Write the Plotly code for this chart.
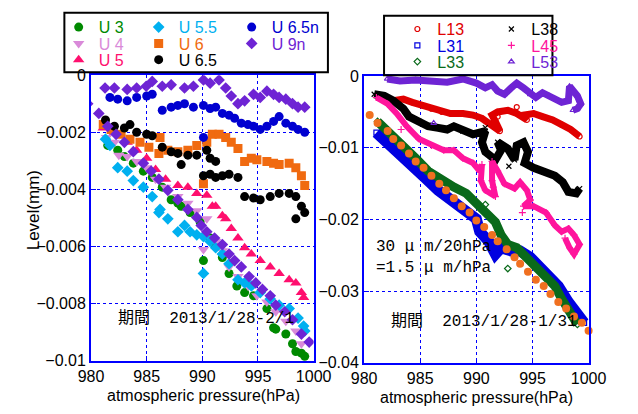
import plotly.graph_objects as go

# ---------------- Left panel data (U series) ----------------
u3_p = [981.5, 982.4, 983.0, 983.8, 984.7, 985.5, 986.4, 987.2, 987.8, 988.1, 988.9, 989.8, 990.7, 991.2,
        990.1, 991.8, 992.4, 993.1, 993.8, 994.6, 995.8, 996.4, 996.6, 997.5, 998.1, 998.4, 998.9, 999.2]
u3_lv = [-0.00246, -0.00263, -0.00285, -0.00308, -0.00336, -0.00358, -0.00392, -0.00436, -0.00448, -0.00459,
         -0.00481, -0.00514, -0.0057, -0.006, -0.00649, -0.00638, -0.00694, -0.00738, -0.00761, -0.00772,
         -0.00817, -0.00884, -0.00889, -0.00906, -0.0094, -0.00967, -0.00973, -0.00984]

u4_p = [981.4, 982.1, 982.5, 983.25, 984.1, 985.0, 985.8, 986.7, 987.8, 988.7, 989.5, 990.4, 990.1, 990.7,
        991.2, 991.8, 992.4, 993.2, 994.1, 994.9, 995.8, 996.6, 997.5, 998.4, 998.9]
u4_lv = [-0.00218, -0.00235, -0.0028, -0.00285, -0.00302, -0.00324, -0.00364, -0.00392, -0.00425, -0.00448,
         -0.00475, -0.00503, -0.0061, -0.0057, -0.00582, -0.00615, -0.00671, -0.00705, -0.00738, -0.00772,
         -0.00794, -0.00828, -0.00861, -0.00895, -0.0094]

u5_p = [981.1, 982.1, 983.25, 984.1, 985.0, 985.8, 986.7, 987.8, 988.7, 989.5, 990.4, 990.9, 991.2, 991.8,
        992.1, 992.6, 993.2, 993.8, 994.4, 995.2, 996.1, 996.9, 997.8, 998.4, 998.9, 999.1]
u5_lv = [-0.00185, -0.002, -0.00235, -0.00263, -0.00291, -0.0033, -0.00364, -0.00386, -0.00392, -0.00414,
         -0.0042, -0.00459, -0.00459, -0.00492, -0.00503, -0.00537, -0.0057, -0.00604, -0.00626, -0.00649,
         -0.00671, -0.00694, -0.00716, -0.00727, -0.00761, -0.00778]

u55_p = [981.3, 981.7, 982.4, 983.25, 983.8, 984.7, 985.5, 986.2, 986.1, 986.9, 987.8, 988.4, 988.9, 989.5,
         990.1, 990.7, 991.2, 991.8, 992.4, 993.2, 993.8, 994.4, 995.2, 996.1, 996.9, 997.8, 998.6, 999.1,
         999.2, 990.1]
u55_lv = [-0.00224, -0.00246, -0.00324, -0.00336, -0.00369, -0.00392, -0.00425, -0.0047, -0.00481, -0.00503,
          -0.00548, -0.00526, -0.00548, -0.00559, -0.00565, -0.00582, -0.00604, -0.00626, -0.0066, -0.00716,
          -0.00727, -0.00738, -0.00761, -0.00783, -0.00805, -0.00817, -0.0085, -0.00878, -0.00895, -0.00694]

u6_p = [981.1, 981.8, 982.7, 983.5, 984.4, 985.2, 986.1, 986.2, 986.9, 987.8, 988.7, 989.5, 990.4, 990.9,
        991.5, 992.1, 992.6, 993.2, 993.8, 994.4, 994.9, 995.8, 996.4, 996.9, 997.8, 998.4, 998.9, 999.2, 990.1]
u6_lv = [-0.00173, -0.0019, -0.00207, -0.00224, -0.00235, -0.00252, -0.00274, -0.00218, -0.00263, -0.00268,
         -0.00263, -0.00246, -0.00235, -0.00207, -0.00207, -0.00218, -0.00235, -0.00257, -0.00302, -0.00291,
         -0.00296, -0.00302, -0.00308, -0.00313, -0.00308, -0.00324, -0.00352, -0.00386, -0.0038]

u65_p = [981.3, 982.1, 983.0, 983.5, 984.1, 985.0, 985.5, 986.4, 987.2, 987.8, 988.1, 988.7, 989.5, 990.4,
         990.7, 991.2, 990.1, 990.7, 991.2, 991.8, 992.4, 993.2, 993.8, 994.6, 995.2, 996.1, 996.9, 997.8,
         998.4, 998.9, 999.2, 998.4]
u65_lv = [-0.00157, -0.00179, -0.00185, -0.00173, -0.002, -0.00207, -0.00212, -0.00252, -0.00268, -0.00274,
          -0.00313, -0.0028, -0.0028, -0.00263, -0.00291, -0.00302, -0.00352, -0.00347, -0.00358, -0.00352,
          -0.00347, -0.00358, -0.00425, -0.0043, -0.00436, -0.00425, -0.00414, -0.00414, -0.00425, -0.00459,
          -0.00481, -0.00503]

u65n_p = [981.7, 982.4, 983.25, 984.1, 985.0, 985.5, 986.4, 987.2, 987.8, 988.4, 989.2, 990.1, 990.7, 991.2,
          991.8, 992.4, 992.9, 993.5, 994.1, 994.6, 995.2, 995.8, 996.4, 996.9, 997.5, 998.1, 998.6, 999.2, 990.1]
u65n_lv = [-0.00078, -0.00084, -0.0009, -0.00078, -0.00073, -0.00067, -0.00123, -0.00112, -0.00106, -0.001,
           -0.00112, -0.00106, -0.00117, -0.00112, -0.00134, -0.0014, -0.00151, -0.00168, -0.00173, -0.00179,
           -0.0019, -0.00179, -0.00162, -0.00145, -0.00168, -0.00179, -0.0019, -0.002, -0.00218]

u9n_p = [981.26, 982.1, 983.25, 984.1, 984.96, 985.5, 986.4, 987.2, 988.4, 989.2, 990.1, 990.7, 991.5, 992.1,
         992.6, 993.2, 993.8, 994.6, 995.2, 995.8, 996.4, 996.9, 997.5, 998.1, 998.6, 999.2]
u9n_lv = [-0.00045, -0.00045, -0.0005, -0.00045, -0.00039, -0.00022, -0.00039, -0.00034, -0.00045, -0.00039,
          -0.00017, -0.00028, -0.00017, -0.00045, -0.00073, -0.001, -0.0009, -0.00067, -0.00078, -0.00056,
          -0.00067, -0.00078, -0.00084, -0.001, -0.00112, -0.00112]

# second purple-diamond set (diagonal)
u9d_p = [979.7, 980.7, 981.5, 982.25, 983.0, 983.8, 984.7, 985.4, 986.1, 986.9, 987.8, 988.7, 989.5, 989.9,
         990.4, 991.1, 991.8, 992.4, 992.9, 993.5, 994.2, 994.8, 995.4, 996.1, 996.6, 997.4, 998.1, 998.9, 999.6]
u9d_lv = [-0.001, -0.00134, -0.00179, -0.00207, -0.00235, -0.00268, -0.00308, -0.00336, -0.00364, -0.00403,
          -0.00436, -0.0047, -0.00498, -0.00526, -0.00548, -0.0057, -0.00593, -0.00626, -0.00649, -0.00671,
          -0.00705, -0.00727, -0.0075, -0.00772, -0.00805, -0.00828, -0.00856, -0.00906, -0.00934]

# ---------------- Right panel data (L series) ----------------
l13_p = [982.6, 983.5, 984.3, 985.2, 986.0, 986.9, 987.7, 988.8, 989.7, 990.5, 991.4, 992.1, 991.7, 991.4,
         991.9, 992.8, 993.6, 994.5, 994.2, 995.1, 995.9, 996.8, 997.6, 998.4, 999.2]
l13_lv = [-0.00343, -0.00321, -0.00366, -0.0041, -0.00455, -0.005, -0.00522, -0.00522, -0.00544, -0.00589,
          -0.00678, -0.00767, -0.00633, -0.00544, -0.005, -0.00477, -0.00522, -0.00611, -0.00544, -0.00522,
          -0.00566, -0.00611, -0.00678, -0.00745, -0.00843]
l13_out_p = [991.9, 993.6]
l13_out_lv = [-0.00566, -0.00432]

l31_p = [981.1, 982.1, 983.2, 984.3, 985.4, 986.6, 987.7, 988.8, 990.0, 990.3, 991.1, 991.7, 992.2, 993.1,
         993.9, 994.8, 995.6, 996.5, 997.3, 998.2, 999.0, 999.6]
l31_lv = [-0.00789, -0.00923, -0.01101, -0.01235, -0.01414, -0.01592, -0.01726, -0.0186, -0.01993, -0.0217,
          -0.02305, -0.02484, -0.02395, -0.02439, -0.02439, -0.02528, -0.02662, -0.02796, -0.0293, -0.03153,
          -0.03331, -0.03442]
l31_out_p = []
l31_out_lv = []

l33_p = [981.2, 982.3, 983.5, 984.6, 985.7, 986.9, 988.0, 989.1, 990.0, 990.8, 991.7, 992.2, 992.8, 993.6,
         994.5, 995.3, 996.2, 997.0, 997.6, 998.2, 999.0]
l33_lv = [-0.00633, -0.00789, -0.00967, -0.01147, -0.01324, -0.01458, -0.01548, -0.01636, -0.0177, -0.01904,
          -0.02037, -0.02216, -0.02349, -0.02395, -0.02528, -0.02662, -0.02796, -0.0293, -0.03108, -0.03287,
          -0.03465]
l33_out_p = [990.8, 992.8]
l33_out_lv = [-0.01793, -0.02685]

l38_p = [980.9, 981.8, 982.6, 983.5, 984.0, 984.9, 985.7, 986.6, 987.4, 988.0, 988.8, 989.7, 990.8, 990.5,
         990.8, 991.7, 992.2, 991.9, 992.8, 993.4, 993.6, 994.2, 994.6, 994.3, 995.1, 995.9, 997.0, 997.7,
         998.2, 998.9, 999.2]
l38_lv = [-0.00254, -0.00277, -0.00343, -0.00455, -0.00566, -0.00633, -0.007, -0.00722, -0.00745, -0.007,
          -0.00767, -0.00812, -0.00767, -0.00923, -0.01057, -0.01168, -0.01034, -0.00923, -0.01012, -0.01168,
          -0.00967, -0.00923, -0.01057, -0.01213, -0.0128, -0.01324, -0.01391, -0.01481, -0.01615, -0.01636,
          -0.01569]
l38_out_p = [992.9, 990.8]
l38_out_lv = [-0.01258, -0.0072]

l45_p = [981.1, 982.1, 982.9, 983.8, 984.9, 986.0, 987.1, 988.0, 988.8, 989.7, 990.3, 990.5, 990.4, 990.8,
         991.7, 991.4, 991.4, 991.9, 992.5, 993.4, 993.9, 994.5, 994.8, 994.2, 995.1, 996.2, 997.0, 997.6,
         998.2, 998.7, 999.2, 998.7, 998.3, 997.9]
l45_lv = [-0.00299, -0.00388, -0.00522, -0.007, -0.00879, -0.00967, -0.01034, -0.01034, -0.01147, -0.01213,
          -0.01324, -0.01235, -0.01458, -0.01592, -0.01681, -0.01458, -0.01191, -0.01324, -0.01503, -0.01569,
          -0.01481, -0.01592, -0.01726, -0.01815, -0.01815, -0.01904, -0.02083, -0.0217, -0.02127, -0.02216,
          -0.02349, -0.02484, -0.02395, -0.02261]
l45_out_p = [991.5, 994.1, 983.3]
l45_out_lv = [-0.01548, -0.01904, -0.00745]

l53_p = [982.06, 983.2, 984.6, 986.0, 987.4, 988.8, 990.0, 990.8, 991.4, 991.9, 992.5, 993.1, 993.6, 994.2,
         994.8, 995.3, 995.9, 996.5, 997.0, 997.6, 998.2, 998.3, 999.0, 999.3, 999.0, 998.6]
l53_lv = [-0.0004, -0.00067, -0.00054, -0.00076, -0.00085, -0.0004, -0.00098, -0.00165, -0.0012, -0.0021,
          -0.00254, -0.00165, -0.00098, -0.00165, -0.00254, -0.00298, -0.00232, -0.00277, -0.00321, -0.00366,
          -0.00344, -0.00143, -0.00277, -0.00388, -0.00455, -0.00477]
l53_out_p = [986.2]
l53_out_lv = [-0.00656]

ref_p = [980.5, 981.2, 982.1, 982.6, 983.3, 984.0, 984.6, 985.3, 986.0, 986.7, 987.3, 988.0, 988.7, 989.4,
         990.0, 990.7, 991.4, 991.9, 992.7, 993.4, 993.9, 994.6, 995.3, 996.0, 996.6, 997.3, 998.0, 998.7,
         999.4, 1000.0]
ref_lv = [-0.00544, -0.00656, -0.00767, -0.00879, -0.00967, -0.0108, -0.01191, -0.0128, -0.01391, -0.01503,
          -0.01592, -0.01703, -0.01815, -0.01904, -0.02016, -0.02104, -0.02216, -0.02305, -0.02417, -0.02528,
          -0.02618, -0.02729, -0.0284, -0.0293, -0.03041, -0.03153, -0.03242, -0.03354, -0.03442, -0.03554]

W, H = 638, 414
FONT = "Liberation Sans, Arial, Noto Sans CJK JP, sans-serif"
MFONT = "Liberation Mono, Noto Sans CJK JP, monospace"
BLUE = "#0000ff"


def px(x):
    return x / W


def py(y):
    return 1 - y / H


def lname(text, color):
    return f"<span style='color:{color}'>{text}</span>"


fig = go.Figure()

# ---- left panel traces ----
left_series = [
    ("U 3", u3_p, u3_lv, "#008a00", "circle", 9, "legend", 35),
    ("U 4", u4_p, u4_lv, "#d98ad9", "triangle-down", 10, "legend2", 35),
    ("U 5", u5_p, u5_lv, "#ff0f6e", "triangle-up", 10, "legend3", 35),
    ("U 5.5", u55_p, u55_lv, "#00b0f0", "diamond", 9, "legend", 48),
    ("U 6", u6_p, u6_lv, "#f06a10", "square", 9, "legend2", 48),
    ("U 6.5", u65_p, u65_lv, "#000000", "circle", 9, "legend3", 48),
    ("U 6.5n", u65n_p, u65n_lv, "#0000d0", "circle", 9, "legend", 60),
    ("U 9n", u9n_p, u9n_lv, "#6e24d4", "diamond", 9, "legend2", 60),
]
for name, xs, ys, col, sym, sz, leg, lw in left_series:
    fig.add_trace(go.Scatter(
        x=xs, y=ys, mode="markers", name=lname(name, col),
        marker=dict(color=col, symbol=sym, size=sz, line=dict(width=0)),
        xaxis="x", yaxis="y", legend=leg, legendwidth=lw,
    ))
fig.add_trace(go.Scatter(
    x=u9d_p, y=u9d_lv, mode="markers", showlegend=False,
    marker=dict(color="#6e24d4", symbol="diamond", size=9, line=dict(width=0)),
    xaxis="x", yaxis="y",
))

# ---- right panel traces ----
right_series = [
    ("L13", l13_p, l13_lv, l13_out_p, l13_out_lv, "#e00000", "circle-open", 7, "legend4"),
    ("L31", l31_p, l31_lv, l31_out_p, l31_out_lv, "#0000e0", "square-open", 11, "legend5"),
    ("L33", l33_p, l33_lv, l33_out_p, l33_out_lv, "#0a6a1a", "diamond-open", 9, "legend6"),
    ("L38", l38_p, l38_lv, l38_out_p, l38_out_lv, "#000000", "x-thin-open", 8, "legend4"),
    ("L45", l45_p, l45_lv, l45_out_p, l45_out_lv, "#ff149c", "cross-thin-open", 6, "legend5"),
    ("L53", l53_p, l53_lv, l53_out_p, l53_out_lv, "#6e24d4", "triangle-up-open", 7, "legend6"),
]
for name, xs, ys, oxs, oys, col, sym, width, leg in right_series:
    # small open markers for every recorded point (band points get covered by the band line)
    fig.add_trace(go.Scatter(
        x=list(xs) + list(oxs), y=list(ys) + list(oys), mode="markers", name=lname(name, col),
        marker=dict(color=col, symbol=sym, size=5, line=dict(color=col, width=1.2)),
        xaxis="x2", yaxis="y2", legend=leg, legendwidth=49,
    ))
    fig.add_trace(go.Scatter(
        x=xs, y=ys, mode="lines", showlegend=False,
        line=dict(color=col, width=width, shape="linear"),
        xaxis="x2", yaxis="y2",
    ))
fig.add_trace(go.Scatter(
    x=ref_p, y=ref_lv, mode="markers", showlegend=False, cliponaxis=False,
    marker=dict(color="#f07020", symbol="circle", size=8, line=dict(width=0)),
    xaxis="x2", yaxis="y2",
))

axis_common = dict(
    showline=True, linecolor=BLUE, linewidth=2, mirror=True,
    showgrid=True, gridcolor=BLUE, gridwidth=1, griddash="dot",
    zeroline=False, ticks="inside", ticklen=5, tickcolor=BLUE, tickwidth=1,
)

xt = dict(family=FONT, size=16, color="black")
yt = dict(family=FONT, size=16, color="black")
fig.update_layout(
    width=W, height=H,
    margin=dict(l=0, r=0, t=0, b=0),
    paper_bgcolor="white", plot_bgcolor="white",
    font=dict(family=FONT, size=16, color="black"),
    xaxis=dict(domain=[px(82), px(316)], range=[980, 1000], dtick=5, anchor="y", tickfont=xt, **axis_common),
    yaxis=dict(domain=[py(368), py(70)], range=[-0.01, 0], dtick=0.002, anchor="x", tickfont=yt, **axis_common),
    xaxis2=dict(domain=[px(369), px(605)], range=[980, 1000], dtick=5, anchor="y2", tickfont=xt, **axis_common),
    yaxis2=dict(domain=[py(370), py(71)], range=[-0.04, 0], dtick=0.01, anchor="x2", tickfont=yt, **axis_common),
)

leg_common = dict(orientation="h", xanchor="left", yanchor="middle", bgcolor="rgba(0,0,0,0)",
                  borderwidth=0, itemsizing="trace", entrywidthmode="pixels", tracegroupgap=0)
lf = dict(family=FONT, size=16)
rf = dict(family=FONT, size=16)
fig.update_layout(
    legend=dict(x=px(48), y=py(20), font=lf, **leg_common),
    legend2=dict(x=px(48), y=py(37), font=lf, **leg_common),
    legend3=dict(x=px(48), y=py(54), font=lf, **leg_common),
    legend4=dict(x=px(404), y=py(22), font=rf, **leg_common),
    legend5=dict(x=px(404), y=py(39), font=rf, **leg_common),
    legend6=dict(x=px(404), y=py(56), font=rf, **leg_common),
)

fig.update_layout(shapes=[
    dict(type="rect", xref="paper", yref="paper", x0=px(54), x1=px(331), y0=py(67), y1=py(5),
         line=dict(color="black", width=2), fillcolor="rgba(0,0,0,0)", layer="above"),
    dict(type="rect", xref="paper", yref="paper", x0=px(390), x1=px(567), y0=py(70), y1=py(8),
         line=dict(color="black", width=2), fillcolor="rgba(0,0,0,0)", layer="above"),
])

ann = [
    dict(text="Level(mm)", x=px(21), y=py(211), textangle=-90, font=dict(family=FONT, size=17)),
    dict(text="atmospheric pressure(hPa)", x=px(200), y=py(404), font=dict(family=FONT, size=16)),
    dict(text="atmospheric pressure(hPa)", x=px(487), y=py(406), font=dict(family=FONT, size=16)),
    dict(text="期間\u00a0 2013/1/28-2/1", x=px(108), y=py(324), xanchor="left",
         font=dict(family=MFONT, size=16)),
    dict(text="30 μ m/20hPa<br>=1.5 μ m/hPa", x=px(379), y=py(260), xanchor="left", align="left",
         font=dict(family=MFONT, size=16)),
    dict(text="期間\u00a0 2013/1/28-1/31", x=px(395), y=py(327), xanchor="left",
         font=dict(family=MFONT, size=16)),
]
for a in ann:
    a.setdefault("xanchor", "center")
    a.update(xref="paper", yref="paper", yanchor="middle", showarrow=False)
fig.update_layout(annotations=ann)

fig.write_html("out.html")
